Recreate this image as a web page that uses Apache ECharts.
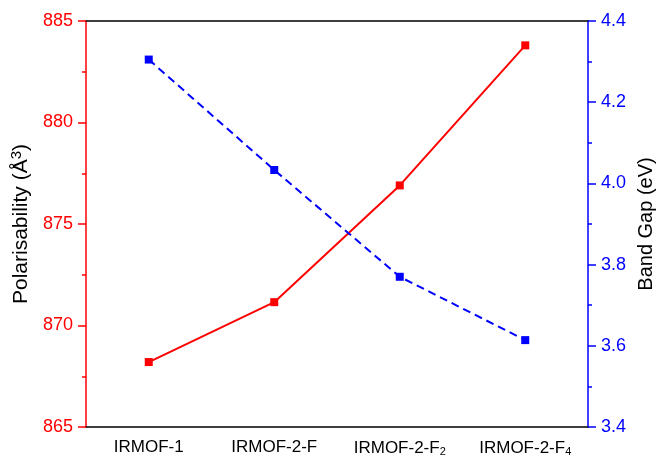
<!DOCTYPE html>
<html>
<head>
<meta charset="utf-8">
<script src="https://cdn.jsdelivr.net/npm/echarts@6/dist/echarts.min.js"></script>
<style>
  html, body { margin: 0; padding: 0; background: #fff; }
  #chart { width: 656px; height: 456px; }
</style>
</head>
<body>
<div id="chart"></div>
<script>
// subscripts are written as rich-text {sub|n}
const categories = ["IRMOF-1", "IRMOF-2-F", "IRMOF-2-F{sub|2}", "IRMOF-2-F{sub|4}"];
const polarisability = [868.2, 871.15, 876.9, 883.8];
const bandGap = [4.305, 4.033, 3.77, 3.614];

const chart = echarts.init(document.getElementById("chart"));
const font = "Liberation Sans, Arial, sans-serif";

chart.setOption({
  animation: false,
  grid: { left: 86, right: 68, top: 21, bottom: 29, containLabel: false, outerBoundsMode: "none" },
  xAxis: [
    {
      type: "category",
      data: categories,
      position: "bottom",
      axisLine: { lineStyle: { color: "#000", width: 1.5 } },
      axisTick: { alignWithLabel: true, length: 8, lineStyle: { color: "#000", width: 1.5 } },
      axisLabel: {
        interval: 0,
        color: "#000", fontSize: 17, fontFamily: font, margin: 12,
        rich: { sub: { fontSize: 11, fontFamily: font, color: "#000", padding: [7, 0, 0, 0] } }
      }
    },
    {
      type: "category",
      data: categories,
      position: "top",
      axisLine: { lineStyle: { color: "#000", width: 1.5 } },
      axisTick: { inside: true, alignWithLabel: true, length: 5, lineStyle: { color: "#000", width: 1.5 } },
      axisLabel: { show: false }
    }
  ],
  yAxis: [
    {
      type: "value",
      min: 865, max: 885, interval: 5,
      position: "left",
      name: "Polarisability (Å{sup|3})",
      nameLocation: "middle",
      nameGap: 45,
      nameTextStyle: {
        color: "#000", fontSize: 21, fontFamily: font,
        rich: { sup: { fontSize: 15, fontFamily: font, color: "#000", padding: [0, 0, 9, 0] } }
      },
      axisLine: { show: true, lineStyle: { color: "#ff0000", width: 1.5 } },
      axisTick: { show: true, inside: false, length: 8, lineStyle: { color: "#ff0000", width: 1.5 } },
      minorTick: { show: true, splitNumber: 2, length: 4, lineStyle: { color: "#ff0000", width: 1.5 } },
      axisLabel: { color: "#ff0000", fontSize: 18, fontFamily: font, margin: 13 },
      splitLine: { show: false }
    },
    {
      type: "value",
      min: 3.4, max: 4.4, interval: 0.2,
      position: "right",
      name: "Band Gap (eV)",
      nameLocation: "middle",
      nameGap: 45,
      nameRotate: 90,
      nameTextStyle: { color: "#000", fontSize: 20, fontFamily: font },
      axisLine: { show: true, lineStyle: { color: "#0000ff", width: 1.5 } },
      axisTick: { show: true, inside: false, length: 8, lineStyle: { color: "#0000ff", width: 1.5 } },
      minorTick: { show: true, splitNumber: 2, length: 4, lineStyle: { color: "#0000ff", width: 1.5 } },
      axisLabel: {
        color: "#0000ff", fontSize: 18, fontFamily: font, margin: 13,
        formatter: v => v.toFixed(1)
      },
      splitLine: { show: false }
    }
  ],
  series: [
    {
      type: "line",
      data: polarisability,
      yAxisIndex: 0,
      symbol: "rect",
      symbolSize: 8,
      lineStyle: { color: "#ff0000", width: 2 },
      itemStyle: { color: "#ff0000" }
    },
    {
      type: "line",
      data: bandGap,
      yAxisIndex: 1,
      symbol: "rect",
      symbolSize: 8,
      lineStyle: { color: "#0000ff", width: 2, type: [8, 5] },
      itemStyle: { color: "#0000ff" }
    }
  ]
});
</script>
</body>
</html>
